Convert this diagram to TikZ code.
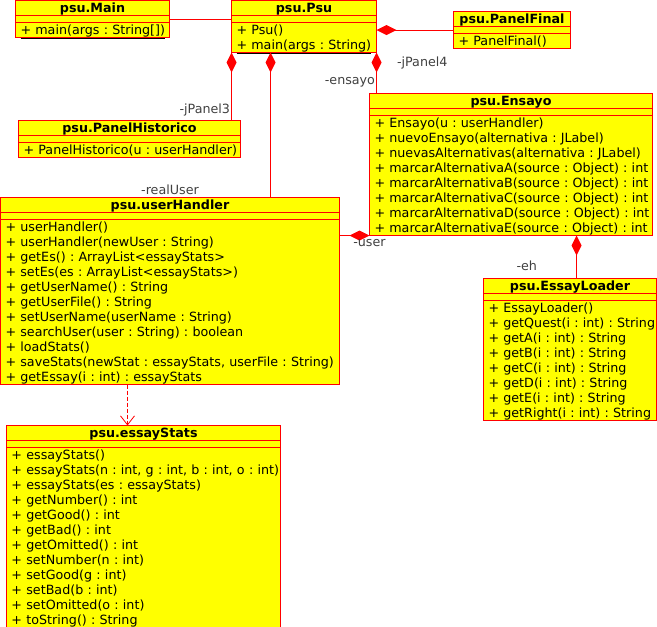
\documentclass[tikz,border=0pt]{standalone}
\usepackage{fontspec}
\setmainfont{DejaVu Sans}
\frenchspacing
\usetikzlibrary{positioning,shapes.multipart,arrows.meta}
\definecolor{umlred}{RGB}{255,0,0}
\definecolor{umlyellow}{RGB}{255,255,0}
\definecolor{rolegray}{RGB}{64,64,64}
\newcommand{\ml}{\rule[-3pt]{0pt}{14pt}}
\newcommand{\umltitle}[1]{{\centering\bfseries\ml #1\par}}
\newcommand{\umlgap}{\rule{0pt}{6pt}}
\newcommand{\op}[1]{\noindent\ml\mbox{#1}\par}
\newcommand{\stat}[1]{\smash{\underline{#1}}}
\tikzset{
  umlclass/.style={rectangle split, rectangle split parts=3, draw=umlred, fill=umlyellow,
    line width=1pt, anchor=north west, inner xsep=5pt, inner ysep=0pt, outer sep=0pt,
    align=left, font=\fontsize{12.7pt}{15pt}\selectfont},
  assoc/.style={draw=umlred, line width=1pt},
  comp/.style={assoc, {Diamond[length=20pt,width=10pt]}-},
  dep/.style={draw=umlred, line width=0.8pt, dash pattern=on 4pt off 2pt,
    -{Straight Barb[length=9pt,width=14pt]}},
  rolelabel/.style={text=rolegray, inner sep=1pt, font=\fontsize{12.7pt}{15pt}\selectfont}
}
\begin{document}
\begin{tikzpicture}[x=1pt, y=-1pt]
\useasboundingbox (0,0) rectangle (657,627);
\clip (0,0) rectangle (657,627);

% classes
\node[umlclass, text width=144pt] (main) at (15.5,0.5) {\umltitle{psu.Main}
  \nodepart{second}\umlgap
  \nodepart{third}\op{\stat{+ main(args : String[])}}};
\node[umlclass, text width=135pt] (psu) at (231.5,0.5) {\umltitle{psu.Psu}
  \nodepart{second}\umlgap
  \nodepart{third}\op{+ Psu()}\op{\stat{+ main(args : String)}}};
\node[umlclass, text width=107pt] (final) at (453.5,11.5) {\umltitle{psu.PanelFinal}
  \nodepart{second}\umlgap
  \nodepart{third}\op{+ PanelFinal()}};
\node[umlclass, text width=212pt] (hist) at (18.5,120.5) {\umltitle{psu.PanelHistorico}
  \nodepart{second}\umlgap
  \nodepart{third}\op{+ PanelHistorico(u : userHandler)}};
\node[umlclass, text width=273pt] (ens) at (369.5,93.5) {\umltitle{psu.Ensayo}
  \nodepart{second}\umlgap
  \nodepart{third}\op{+ Ensayo(u : userHandler)}
  \op{+ nuevoEnsayo(alternativa : JLabel)}
  \op{+ nuevasAlternativas(alternativa : JLabel)}
  \op{+ marcarAlternativaA(source : Object) : int}
  \op{+ marcarAlternativaB(source : Object) : int}
  \op{+ marcarAlternativaC(source : Object) : int}
  \op{+ marcarAlternativaD(source : Object) : int}
  \op{+ marcarAlternativaE(source : Object) : int}};
\node[umlclass, text width=329pt] (uh) at (0.5,197.5) {\umltitle{psu.userHandler}
  \nodepart{second}\umlgap
  \nodepart{third}\op{+ userHandler()}
  \op{+ userHandler(newUser : String)}
  \op{+ getEs() : ArrayList<essayStats>}
  \op{+ setEs(es : ArrayList<essayStats>)}
  \op{+ getUserName() : String}
  \op{+ getUserFile() : String}
  \op{+ setUserName(userName : String)}
  \op{+ searchUser(user : String) : boolean}
  \op{+ loadStats()}
  \op{+ saveStats(newStat : essayStats, userFile : String)}
  \op{+ getEssay(i : int) : essayStats}};
\node[umlclass, text width=163pt] (load) at (483.5,278.5) {\umltitle{psu.EssayLoader}
  \nodepart{second}\umlgap
  \nodepart{third}\op{+ EssayLoader()}
  \op{+ getQuest(i : int) : String}
  \op{+ getA(i : int) : String}
  \op{+ getB(i : int) : String}
  \op{+ getC(i : int) : String}
  \op{+ getD(i : int) : String}
  \op{+ getE(i : int) : String}
  \op{+ getRight(i : int) : String}};
\node[umlclass, text width=264pt] (stats) at (6.5,425.5) {\umltitle{psu.essayStats}
  \nodepart{second}\umlgap
  \nodepart{third}\op{+ essayStats()}
  \op{+ essayStats(n : int, g : int, b : int, o : int)}
  \op{+ essayStats(es : essayStats)}
  \op{+ getNumber() : int}
  \op{+ getGood() : int}
  \op{+ getBad() : int}
  \op{+ getOmitted() : int}
  \op{+ setNumber(n : int)}
  \op{+ setGood(g : int)}
  \op{+ setBad(b : int)}
  \op{+ setOmitted(o : int)}
  \op{+ toString() : String}};

% connectors
\coordinate (ru) at ([xshift=39pt]psu.south west);
\coordinate (ehx) at ([xshift=-76pt]ens.south east);
\coordinate (dx) at ([xshift=127pt]uh.south west);

\draw[assoc] (main.east) -- (main.east -| psu.west);
\draw[comp] (psu.east |- final.west) -- (final.west)
  node[rolelabel, pos=0, anchor=west, xshift=19pt, yshift=-33pt] {-jPanel4};
\draw[comp] (psu.south west) -- (psu.south west |- hist.north)
  node[rolelabel, pos=0.84, left] {-jPanel3};
\draw[comp] (ru) -- (ru |- uh.north);
\node[rolelabel, above=2pt of uh.north] {-realUser};
\draw[comp] (psu.south east) -- (psu.south east |- ens.north)
  node[rolelabel, pos=0.73, left] {-ensayo};
\draw[comp] (ens.south west) -- (ens.south west -| uh.east)
  node[rolelabel, pos=0, below=2pt] {-user};
\draw[comp] (ehx) -- (ehx |- load.north)
  node[rolelabel, pos=0.7, left=38pt] {-eh};
\draw[dep] (dx) -- (dx |- stats.north);
\end{tikzpicture}
\end{document}
